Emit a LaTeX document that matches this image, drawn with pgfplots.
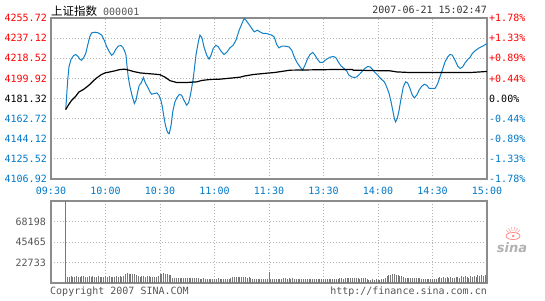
\documentclass[border=0pt]{standalone}
\usepackage{fontspec}
\setmainfont{DejaVu Sans Mono}
\newfontfamily\cjk{Noto Sans CJK SC}
\newfontfamily\sansf{DejaVu Sans}
\usepackage{pgfplots}
\pgfplotsset{compat=1.18}
\usepackage{pgfplotstable}
\usetikzlibrary{calc}
\definecolor{pblue}{RGB}{16,128,200}
\definecolor{lblue}{RGB}{0,120,200}
\definecolor{lred}{RGB}{255,0,0}
\definecolor{bordergray}{RGB}{140,140,140}
\definecolor{gridgray}{RGB}{180,180,180}
\definecolor{volgray}{RGB}{120,120,120}
\definecolor{txtgray}{RGB}{85,85,85}
\pgfplotsset{
  common/.style={
    anchor=south west, width=436pt, scale only axis,
    xmin=0, xmax=240,
    major tick length=0pt,
    scaled ticks=false,
    tick label style={font=\fontsize{10}{10}\selectfont, inner sep=0pt},
    axis line style={bordergray, line width=1.3pt},
    grid=major,
    major grid style={gridgray, dash pattern=on 1pt off 2pt, line width=0.8pt},
    xtick={0,30,...,240},
  }
}
\begin{document}
\begin{tikzpicture}
\path[use as bounding box] (0,0) rectangle (545pt,300pt);
% main price axis
\begin{axis}[common,
  at={(51pt,121pt)}, height=161pt,
  ymin=4106.92, ymax=4255.72,
  xticklabels={09:30,10:00,10:30,11:00,11:30,13:30,14:00,14:30,15:00},
  ytick={4106.92,4125.52,4144.12,4162.72,4181.32,4199.92,4218.52,4237.12,4255.72},
  yticklabels={\textcolor{lblue}{4106.92},\textcolor{lblue}{4125.52},\textcolor{lblue}{4144.12},\textcolor{lblue}{4162.72},\textcolor{black}{4181.32},\textcolor{lred}{4199.92},\textcolor{lred}{4218.52},\textcolor{lred}{4237.12},\textcolor{lred}{4255.72}},
  xticklabel style={text=lblue, yshift=-8pt},
  yticklabel style={xshift=-4pt},
  ytick pos=left, xtick pos=bottom,
]
\addplot[pblue, line width=1pt] coordinates {
(8.1,4171.1)(9.2,4198.2)(9.9,4210.6)(11.0,4217.4)(12.3,4220.7)(13.6,4222.0)(14.7,4220.4)(16.0,4217.4)(16.9,4216.7)(18.0,4219.2)(19.1,4222.9)(20.2,4230.6)(21.3,4238.3)(22.4,4242.0)(24.2,4242.6)(26.0,4242.0)(27.9,4239.9)(29.3,4235.2)(30.7,4229.0)(32.1,4224.4)(33.4,4221.3)(34.5,4222.9)(35.6,4226.6)(37.0,4229.7)(38.5,4230.3)(39.6,4228.5)(40.7,4224.4)(41.3,4221.3)(41.7,4213.7)(42.5,4201.3)(43.5,4192.0)(44.8,4182.8)(45.9,4176.7)(46.8,4179.7)(47.7,4187.4)(48.6,4193.6)(49.5,4195.2)(50.3,4198.2)(50.8,4200.7)(51.4,4198.2)(52.1,4195.2)(53.2,4192.0)(54.5,4187.4)(55.4,4185.3)(56.9,4185.9)(58.2,4186.5)(59.4,4184.4)(60.5,4179.7)(61.3,4173.5)(62.0,4165.9)(62.8,4158.2)(63.7,4152.0)(64.6,4148.9)(65.1,4148.9)(66.1,4156.6)(67.0,4168.9)(68.1,4177.6)(69.2,4181.9)(70.6,4185.0)(71.9,4184.4)(73.2,4179.7)(74.7,4175.1)(75.8,4177.6)(76.9,4185.9)(78.3,4199.8)(79.8,4221.4)(81.1,4233.7)(82.0,4239.9)(83.1,4237.4)(84.2,4229.0)(85.7,4221.4)(87.0,4217.7)(88.1,4221.4)(89.3,4227.6)(90.8,4230.6)(92.1,4229.0)(93.6,4225.1)(95.2,4222.0)(96.7,4223.9)(98.5,4228.1)(100.3,4230.6)(101.8,4235.2)(103.6,4244.5)(105.5,4252.2)(106.4,4255.3)(107.3,4253.7)(108.6,4250.7)(110.5,4246.1)(111.9,4242.9)(113.6,4244.5)(115.0,4242.9)(116.9,4241.4)(118.7,4241.4)(120.2,4240.5)(121.5,4239.9)(122.8,4238.3)(123.3,4236.2)(124.2,4231.3)(125.5,4228.1)(127.0,4229.7)(128.8,4229.7)(131.0,4229.0)(132.5,4226.0)(133.9,4219.8)(135.2,4215.2)(137.1,4210.5)(138.5,4207.5)(139.8,4212.1)(141.3,4218.3)(142.6,4222.0)(144.1,4223.9)(145.3,4221.4)(146.6,4217.7)(148.1,4214.6)(149.6,4214.6)(150.8,4216.5)(152.3,4218.3)(153.7,4219.5)(155.4,4220.2)(156.9,4218.9)(158.1,4215.2)(159.6,4211.5)(161.3,4209.1)(162.8,4206.6)(164.0,4202.9)(165.5,4201.3)(167.0,4200.7)(168.3,4201.3)(169.7,4203.5)(171.4,4206.6)(172.8,4209.1)(174.3,4210.9)(175.6,4210.5)(176.9,4208.4)(178.3,4205.4)(179.8,4202.9)(181.1,4200.4)(182.0,4198.9)(183.5,4196.7)(184.8,4192.0)(186.1,4185.9)(187.2,4178.2)(188.1,4170.5)(189.0,4162.8)(189.7,4159.7)(190.6,4162.8)(191.6,4170.5)(192.7,4181.3)(193.9,4192.0)(195.2,4196.7)(196.3,4195.7)(197.6,4190.6)(198.9,4184.4)(200.0,4181.9)(201.3,4184.4)(202.6,4189.0)(204.1,4192.7)(205.5,4194.5)(206.8,4193.6)(208.2,4190.6)(209.9,4190.6)(211.4,4190.6)(212.9,4195.2)(214.1,4201.3)(215.4,4207.5)(216.9,4215.2)(218.4,4219.8)(219.6,4222.0)(220.9,4221.4)(222.4,4216.7)(223.9,4211.2)(225.1,4209.1)(226.6,4210.5)(227.9,4214.2)(229.4,4217.4)(230.6,4219.2)(231.9,4222.9)(233.4,4225.3)(235.2,4227.6)(236.7,4229.0)(238.0,4230.0)(239.3,4231.5)(240,4231.5)
};
\addplot[black, line width=1.2pt] coordinates {
(8.1,4171.1)(9.5,4175.1)(11.4,4179.7)(13.6,4183.4)(15.4,4187.4)(17.8,4189.6)(19.7,4192.0)(21.5,4194.5)(23.3,4197.6)(25.2,4200.4)(27.5,4203.2)(29.7,4205.0)(32.5,4205.9)(35.2,4206.9)(38.0,4208.1)(40.7,4208.4)(42.9,4207.5)(45.3,4206.3)(49.0,4205.0)(52.7,4204.4)(57.2,4203.8)(60.0,4203.3)(62.8,4201.0)(65.5,4197.8)(69.2,4196.1)(74.7,4196.1)(80.2,4196.7)(83.0,4198.0)(87.5,4198.9)(93.0,4199.2)(98.5,4200.1)(104.0,4201.0)(106.8,4202.2)(111.4,4203.5)(118.7,4204.7)(123.3,4205.4)(131.6,4207.5)(156.3,4208.1)(165.9,4208.1)(166.4,4207.5)(181.1,4207.0)(186.6,4206.9)(190.3,4205.9)(196.7,4205.4)(231.6,4205.4)(240,4206.3)
};
\end{axis}
% right percent labels
\begin{axis}[common,
  at={(51pt,121pt)}, height=161pt,
  ymin=4106.92, ymax=4255.72,
  grid=none, axis x line=none, axis y line*=right,
  axis line style={draw=none},
  ytick={4106.92,4125.52,4144.12,4162.72,4181.32,4199.92,4218.52,4237.12,4255.72},
  yticklabels={\textcolor{lblue}{-1.78\%},\textcolor{lblue}{-1.33\%},\textcolor{lblue}{-0.89\%},\textcolor{lblue}{-0.44\%},\textcolor{black}{0.00\%},\textcolor{lred}{+0.44\%},\textcolor{lred}{+0.89\%},\textcolor{lred}{+1.33\%},\textcolor{lred}{+1.78\%}},
  yticklabel style={xshift=2pt},
]
\addplot[draw=none] coordinates {(0,4181.32)};
\end{axis}
% volume axis
\begin{axis}[common,
  at={(51pt,17pt)}, height=82pt,
  ymin=0, ymax=90931,
  xticklabels=\empty,
  ytick={22733,45465,68198},
  yticklabels={22733,45465,68198},
  yticklabel style={text=txtgray, xshift=-5pt},
  ytick pos=left, xtick pos=bottom,
]
\addplot[ycomb, volgray, line width=0.9pt] table[row sep=\\, header=false, x expr=\coordindex+8, y index=0] {
90931\\7200\\6800\\7300\\6900\\7100\\7400\\6700\\7000\\7300\\7600\\7100\\6900\\7400\\7200\\7500\\7000\\6800\\7300\\7100\\6600\\7200\\7500\\7000\\
7300\\7000\\6800\\7200\\7500\\7100\\7400\\6900\\7600\\
9800\\10700\\10200\\9500\\10400\\9900\\9000\\
7600\\7200\\8000\\7400\\6900\\7300\\7700\\7100\\6800\\7200\\6900\\7500\\
9600\\10300\\10600\\10100\\9700\\9200\\8400\\
5800\\5500\\6000\\5400\\5700\\5300\\5900\\5600\\5200\\5500\\5800\\5400\\5100\\5600\\5300\\
4800\\4600\\5000\\4700\\4400\\4900\\4600\\4800\\4500\\4700\\5000\\4600\\4400\\4800\\4900\\4500\\4700\\5100\\
6200\\6600\\6900\\6400\\6700\\6300\\6800\\6500\\6100\\6400\\5900\\
4300\\4100\\4000\\4400\\4200\\3900\\4300\\4100\\4000\\
11800\\
4600\\4300\\4500\\4200\\4700\\4400\\4600\\5100\\5300\\4900\\5200\\4800\\5000\\4600\\4400\\4300\\4500\\4200\\4400\\4600\\4300\\4100\\4400\\4500\\4200\\4300\\4600\\4400\\4100\\4300\\4500\\4200\\4400\\4600\\4300\\4500\\4200\\4400\\
5000\\5300\\4900\\5200\\5500\\5100\\5400\\5000\\5200\\5600\\5300\\4900\\5100\\5400\\5000\\4800\\
3800\\3600\\4000\\3700\\3900\\3500\\3800\\4200\\4600\\5200\\
7600\\8500\\9400\\10000\\9600\\9200\\8800\\8300\\7900\\7200\\
6000\\5700\\5400\\5800\\5500\\5200\\5600\\5300\\5000\\
4500\\4200\\4600\\4300\\4100\\4400\\4700\\4200\\4500\\
5800\\6600\\5400\\6900\\5900\\6400\\5200\\6700\\6100\\5600\\6300\\
6800\\5600\\7400\\6200\\7800\\6500\\5900\\7600\\6800\\8200\\7000\\8600\\7400\\8400\\7900\\8800\\8000\\
};
\end{axis}
% texts
\node[anchor=west, inner sep=0pt] at (51pt,289pt) {{\cjk\fontsize{11.5}{12}\selectfont 上证指数}\hspace{6pt}{\fontsize{10}{10}\selectfont\textcolor{txtgray}{000001}}};
\node[anchor=east, inner sep=0pt, text=black!80] at (487pt,290pt) {\fontsize{10}{10}\selectfont 2007-06-21 15:02:47};
\node[anchor=west, inner sep=0pt, text=txtgray] at (50pt,8pt) {\fontsize{10}{10}\selectfont Copyright 2007 SINA.COM};
\node[anchor=east, inner sep=0pt, text=txtgray] at (487pt,8pt) {\fontsize{10}{10}\selectfont http://finance.sina.com.cn};
% sina logo
\draw[red!45, line width=0.8pt] (513pt,64pt) ellipse (7pt and 3.5pt);
\fill[red!45] (513pt,64pt) circle (1.5pt);
\foreach \a in {40,60,...,140} \draw[red!35, line width=0.6pt] ($(513pt,64pt)+(\a:5pt)$) -- ($(513pt,64pt)+(\a:9pt)$);
\node[inner sep=0pt, text=black!30] at (512pt,52pt) {\sansf\bfseries\itshape\fontsize{13}{13}\selectfont sina};
\end{tikzpicture}
\end{document}
